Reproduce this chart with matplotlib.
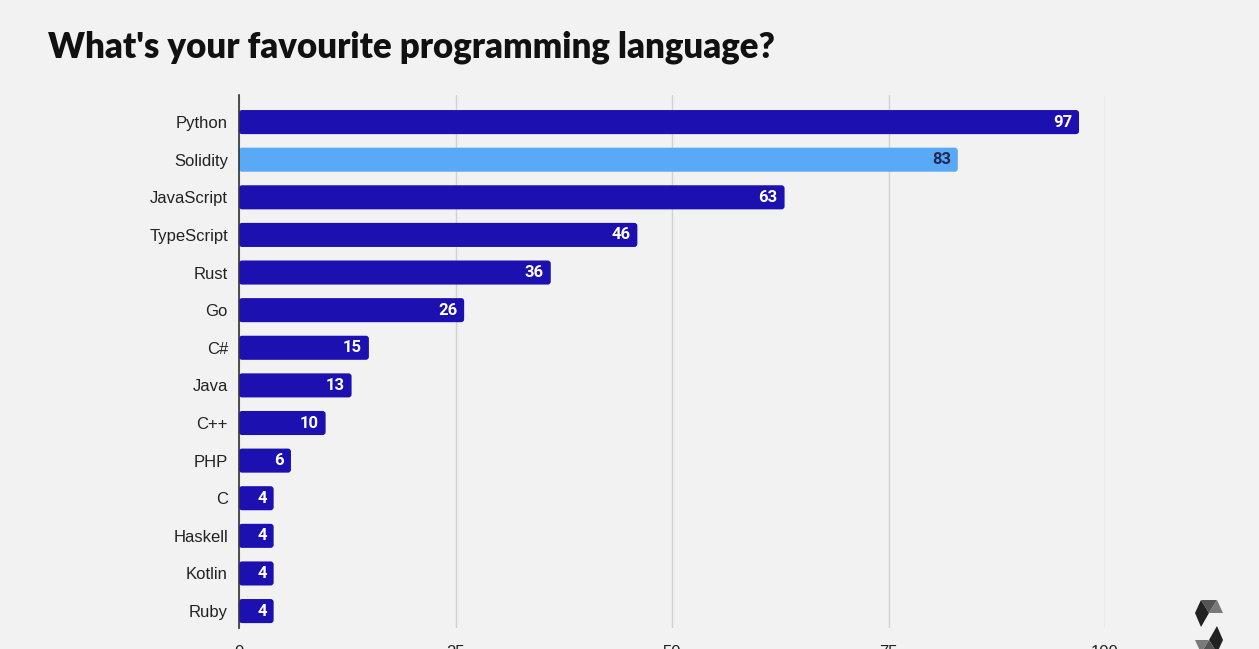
import matplotlib.pyplot as plt
from matplotlib.patches import FancyBboxPatch, Polygon

languages = ["Python", "Solidity", "JavaScript", "TypeScript", "Rust", "Go", "C#",
             "Java", "C++", "PHP", "C", "Haskell", "Kotlin", "Ruby"]
votes = [97, 83, 63, 46, 36, 26, 15, 13, 10, 6, 4, 4, 4, 4]
x_ticks = [0, 25, 50, 75, 100]

DARK = "#1c10b0"
LIGHT = "#5aa9f6"
BG = "#f2f2f2"

W, H = 1259, 649
fig = plt.figure(figsize=(W / 100, H / 100), dpi=100, facecolor=BG)
ax = fig.add_axes([239 / W, 1 - 628 / H, (1105 - 239) / W, (628 - 95) / H], facecolor=BG)

ypos = list(range(len(languages)))
colors = [LIGHT if l == "Solidity" else DARK for l in languages]
bars = ax.barh(ypos, votes, height=0.64, color=colors)

ax.set_xlim(0, 100)
ax.set_ylim(13.45, -0.72)

# rounded bar ends
asp = 37.6 / 8.66  # px per y unit / px per x unit
for b, c in zip(bars, colors):
    x0, y0 = b.get_x(), b.get_y()
    w, h = b.get_width(), b.get_height()
    b.remove()
    r = FancyBboxPatch((x0, y0), w, h, boxstyle="round,pad=0,rounding_size=0.35",
                       mutation_aspect=1 / asp, facecolor=c, edgecolor="none", zorder=2)
    ax.add_patch(r)

for y, v, l in zip(ypos, votes, languages):
    tc = "#1e2a55" if l == "Solidity" else "white"
    ax.text(v - 0.8, y, str(v), ha="right", va="center", color=tc,
            fontsize=12, fontweight="bold", family="Roboto", zorder=3)

ax.set_yticks(ypos)
ax.set_yticklabels(languages, fontsize=12, color="#222222", family="Liberation Sans")
ax.tick_params(axis="y", length=0, pad=8)
ax.set_xticks(x_ticks)
ax.set_xticklabels([str(t) for t in x_ticks], fontsize=12, color="#222222",
                   family="Liberation Sans")
ax.tick_params(axis="x", length=0, pad=12)
ax.grid(axis="x", color="#d2d2d2", linewidth=1, zorder=0)
ax.set_axisbelow(True)
for s in ["top", "right", "bottom"]:
    ax.spines[s].set_visible(False)
ax.spines["left"].set_color("#333333")
ax.spines["left"].set_linewidth(1.2)
ax.spines["left"].set_zorder(4)

fig.text(48 / W, 1 - 58 / H, "What's your favourite programming language?",
         fontsize=25, fontweight="heavy", family="Lato", color="#111111",
         ha="left", va="baseline")

# Solidity logo, bottom right
def px(pts):
    return [(x / W, 1 - y / H) for x, y in pts]

upper = [
    ([(1201, 600), (1209, 613), (1201, 627), (1195, 613)], "#222222"),
    ([(1201, 600), (1217, 600), (1209, 613)], "#555555"),
    ([(1217, 600), (1223, 613), (1209, 613)], "#7a7a7a"),
]
lower = [([(2418 - x, 1253 - y) for x, y in pts], c) for pts, c in upper]
for pts, c in upper + lower:
    fig.patches.append(Polygon(px(pts), closed=True, facecolor=c, edgecolor="none",
                               transform=fig.transFigure, figure=fig))

fig.savefig("out.png", dpi=100, facecolor=BG)
